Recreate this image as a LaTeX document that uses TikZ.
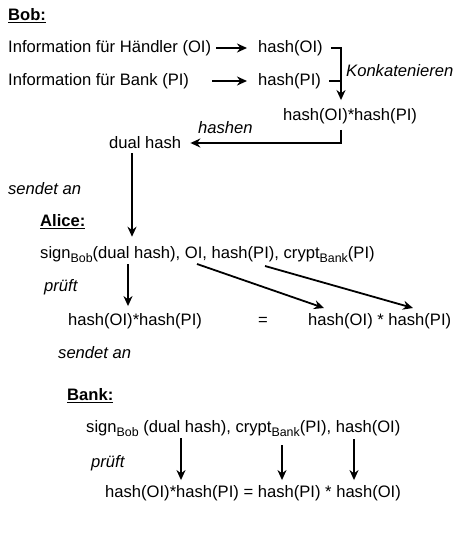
\documentclass[tikz,border=0pt]{standalone}
\usepackage{fontspec}
\setmainfont{Liberation Sans}
\usetikzlibrary{positioning,arrows.meta}

\newcommand{\lowtext}[1]{\raisebox{-0.45ex}{\fontsize{12.4}{12}\selectfont #1}}

\begin{document}
\begin{tikzpicture}[
    x=1pt, y=-1pt,
    txt/.style={anchor=west, inner sep=0pt, font=\fontsize{16.6}{19}\selectfont},
    note/.style={txt, font=\fontsize{16.6}{19}\selectfont\itshape},
    head/.style={txt, font=\fontsize{16.6}{19}\selectfont\bfseries},
    arrow/.style={-{Stealth[length=10pt,width=9pt]}, line width=1.8pt},
    link/.style={line width=1.8pt}
]
\useasboundingbox (0,0) rectangle (468,546);

% Bob
\node[head] (bob) at (8,16) {\underline{Bob:}};
\node[txt] (infoOI) at (8,48) {Information für Händler (OI)};
\node[txt] (infoPI) at (8,81) {Information für Bank (PI)};
\node[txt] (hashOI) at (258,48) {hash(OI)};
\node[txt] (hashPI) at (258,81) {hash(PI)};
\node[note] (konkat) at (346,71) {Konkatenieren};
\node[txt] (concat) at (283,116) {hash(OI)*hash(PI)};
\node[note] (hashen) at (198,128) {hashen};
\node[txt] (dual) at (109,143) {dual hash};

% Alice
\node[note] (send1) at (8,189) {sendet an};
\node[head] (alice) at (40,222) {\underline{Alice:}};
\node[txt] (asign) at (40,255) {sign\lowtext{Bob}(dual hash), OI, hash(PI), crypt\lowtext{Bank}(PI)};
\node[note] (check1) at (44,287) {prüft};
\node[txt] (aleft) at (68,321) {hash(OI)*hash(PI)};
\node[txt, anchor=center] (equal) at (263,321) {=};
\node[txt] (aright) at (308,321) {hash(OI) * hash(PI)};
\node[note] (send2) at (58,353) {sendet an};

% Bank
\node[head] (bank) at (67,396) {\underline{Bank:}};
\node[txt] (bsign) at (86,429) {sign\lowtext{Bob} (dual hash), crypt\lowtext{Bank}(PI), hash(OI)};
\node[note] (check2) at (91,463) {prüft};
\node[txt] (bres) at (105,493) {hash(OI)*hash(PI) = hash(PI) * hash(OI)};

\coordinate (join) at (341,48);
\coordinate (dx) at (132,143);
\coordinate (sigA) at (128,264);
\coordinate (oiA) at (197,264);
\coordinate (oiB) at (324,308);
\coordinate (piA) at (265,266);
\coordinate (piB) at (413,308);
\coordinate (b1) at (181,438);
\coordinate (b2) at (282,445);
\coordinate (b3) at (354,439);

\draw[arrow, shorten <=5pt, shorten >=11pt] (infoOI.east) -- (hashOI.west);
\draw[arrow, shorten <=23pt, shorten >=11pt] (infoPI.east) -- (hashPI.west);
\draw[arrow, shorten >=8pt] ([xshift=8pt]hashOI.east) -- (join) -- (join |- concat.north);
\draw[link] ([xshift=8pt]hashPI.east) -- (join |- hashPI);
\draw[arrow, shorten <=6pt, shorten >=9pt] (join |- concat.south) |- (dual.east);
\draw[arrow, shorten <=4pt, shorten >=10pt] (dx |- dual.south) -- (dx |- asign.north);

\draw[arrow, shorten >=7pt] (sigA) -- (sigA |- aleft.north);
\draw[arrow] (oiA) -- (oiB);
\draw[arrow] (piA) -- (piB);

\draw[arrow, shorten >=5pt] (b1) -- (b1 |- bres.north);
\draw[arrow, shorten >=5pt] (b2) -- (b2 |- bres.north);
\draw[arrow, shorten >=5pt] (b3) -- (b3 |- bres.north);
\end{tikzpicture}
\end{document}
